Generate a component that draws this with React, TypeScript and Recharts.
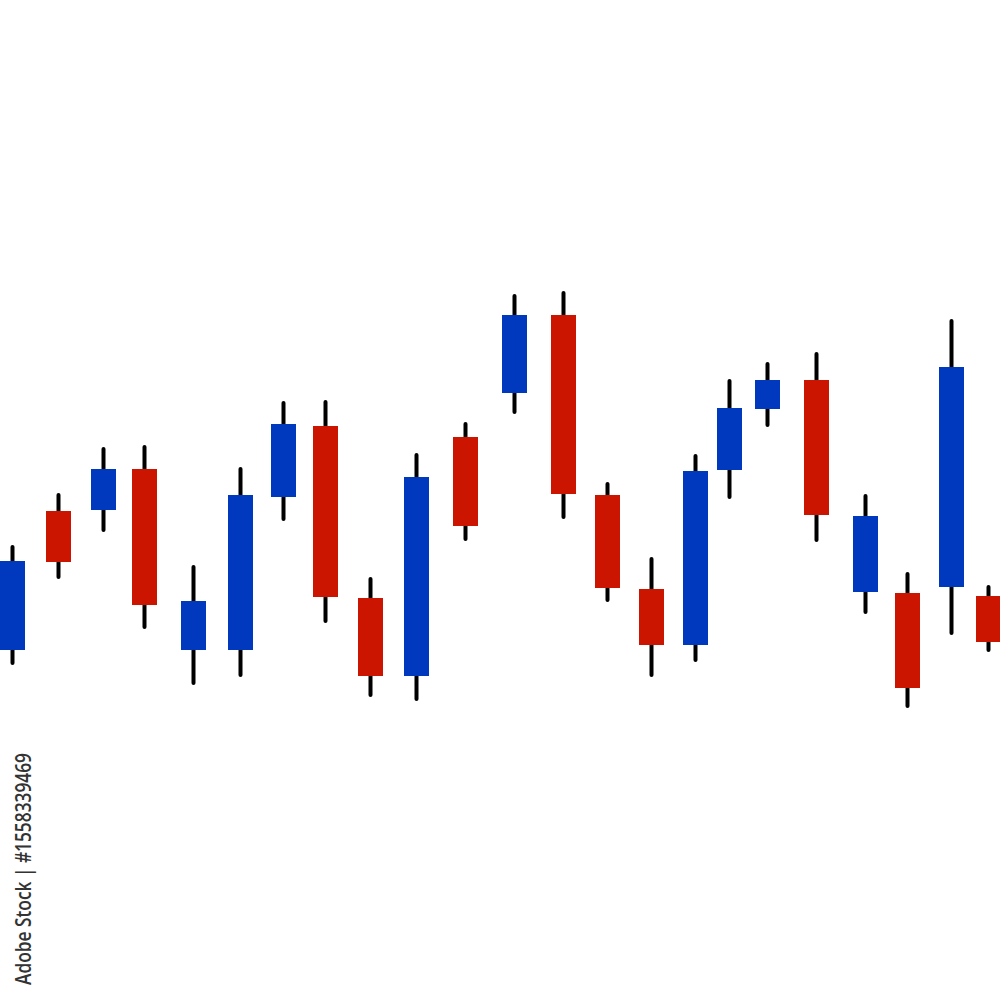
import React from 'react';
import { ComposedChart, Bar, XAxis, YAxis } from 'recharts';

// candle positions along the time axis
const times = [12, 58, 103, 144, 193, 240, 283, 325, 370, 416, 465, 514, 563, 607, 651, 695, 729, 767, 816, 865, 907, 951, 988];
const opens = [35.0, 48.9, 49.0, 53.1, 35.0, 35.0, 50.3, 57.4, 40.2, 32.4, 56.3, 60.7, 68.5, 50.5, 41.1, 35.5, 53.0, 59.1, 62.0, 40.8, 40.7, 41.3, 40.4];
const closes = [43.9, 43.8, 53.1, 39.5, 39.9, 50.5, 57.6, 40.3, 32.4, 52.3, 47.4, 68.5, 50.6, 41.2, 35.5, 52.9, 59.2, 62.0, 48.5, 48.4, 31.2, 63.3, 35.8];
const highs = [45.5, 50.7, 55.3, 55.5, 43.5, 53.3, 59.9, 60.0, 42.3, 54.7, 57.8, 70.6, 70.9, 51.8, 44.3, 54.6, 62.1, 63.8, 64.8, 50.6, 42.8, 68.1, 41.5];
const lows = [33.5, 42.1, 46.8, 37.1, 31.5, 32.3, 47.9, 37.7, 30.3, 29.9, 45.9, 58.6, 48.1, 39.8, 32.3, 33.8, 50.1, 57.3, 45.8, 38.6, 29.2, 36.5, 34.8];

const UP = '#0039BD';
const DOWN = '#CC1500';

const data = times.map((t, i) => ({
  t,
  open: opens[i],
  close: closes[i],
  high: highs[i],
  low: lows[i],
}));

const Candle = (props: any) => {
  const { x, y, width, height, payload } = props;
  const { open, close, high, low } = payload;
  const top = Math.min(y, y + height);
  const h = Math.abs(height);
  const k = h / (high - low);
  const cx = x + width / 2;
  const bodyTop = top + (high - Math.max(open, close)) * k;
  const bodyH = Math.abs(open - close) * k;
  const bodyW = 25;
  return (
    <g>
      <line x1={cx} x2={cx} y1={top + 2} y2={top + h - 2} stroke="#000" strokeWidth={4} strokeLinecap="round" />
      <rect x={cx - bodyW / 2} y={bodyTop} width={bodyW} height={bodyH} fill={close >= open ? UP : DOWN} />
    </g>
  );
};

export default function App() {
  return (
    <div style={{ position: 'relative', width: 1000, height: 1000, background: '#fff' }}>
      <style>{'body{margin:0}'}</style>
      <ComposedChart width={1000} height={1000} data={data} margin={{ top: 0, right: 0, bottom: 0, left: 0 }}>
        <XAxis dataKey="t" type="number" domain={[0, 1000]} hide />
        <YAxis type="number" domain={[0, 100]} hide />
        <Bar dataKey={(d: any) => [d.low, d.high]} barSize={25} shape={<Candle />} isAnimationActive={false} />
      </ComposedChart>
      <svg width={60} height={1000} style={{ position: 'absolute', left: 0, top: 0 }}>
        <text
          x={31}
          y={985}
          transform="rotate(-90 31 985)"
          fontFamily="'Open Sans', sans-serif"
          fontSize={22}
          fontWeight={600}
          fill="#333"
          textLength={232}
          lengthAdjust="spacingAndGlyphs"
        >
          Adobe Stock | #1558339469
        </text>
      </svg>
    </div>
  );
}
